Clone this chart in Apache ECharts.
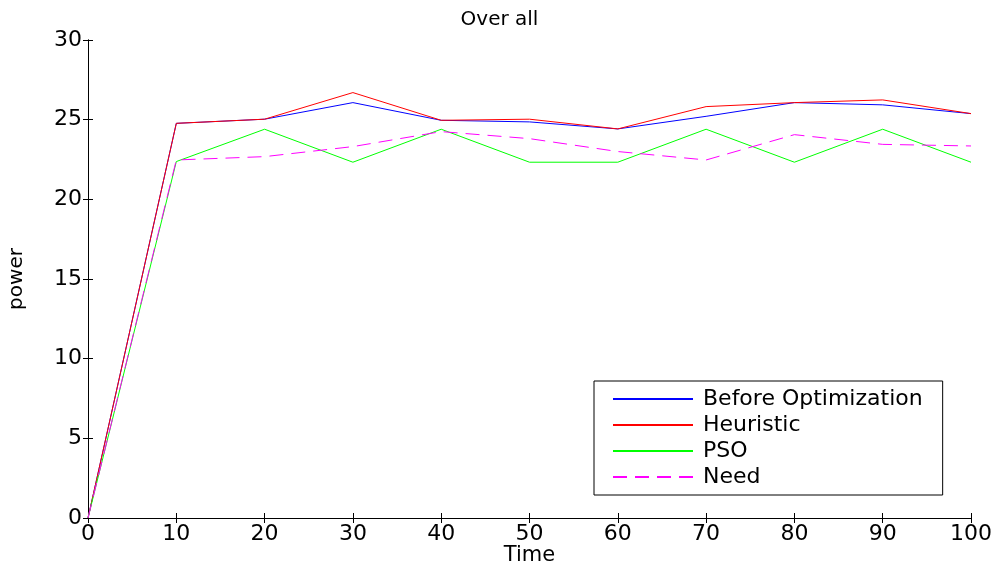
<!DOCTYPE html>
<html>
<head>
<meta charset="utf-8">
<script src="https://cdn.jsdelivr.net/npm/echarts@6/dist/echarts.min.js"></script>
<style>
html, body { margin: 0; padding: 0; background: #fff; }
#c1 { width: 999px; height: 566px; }
</style>
</head>
<body>
<div id="c1"></div>
<script>
// data
var time = [0, 10, 20, 30, 40, 50, 60, 70, 80, 90, 100];
var before = [0, 24.77, 25.03, 26.07, 24.96, 24.86, 24.42, 25.21, 26.07, 25.93, 25.38];
var heuristic = [0, 24.77, 25.03, 26.70, 24.96, 25.03, 24.42, 25.82, 26.07, 26.24, 25.38];
var pso = [0, 22.37, 24.40, 22.33, 24.40, 22.33, 22.33, 24.40, 22.33, 24.40, 22.33];
var need = [0, 22.47, 22.68, 23.31, 24.25, 23.81, 23.00, 22.47, 24.06, 23.45, 23.35];
var names = ['Before Optimization', 'Heuristic', 'PSO', 'Need'];

function pairs(v){
    return time.map(function(t, i){ return [t, v[i]]; });
}

var font = 'DejaVu Sans';

var dom = document.getElementById("c1");
var myChart = echarts.init(dom);
var option = null;

option = {
    animation: false,
    backgroundColor: '#fff',
    title: {
        text: 'Over all',
        left: 'center',
        top: 5,
        textStyle: { fontFamily: font, fontSize: 20, fontWeight: 'normal', color: '#000' }
    },
    legend: {
        data: names,
        orient: 'vertical',
        left: 594,
        top: 381,
        padding: [7, 20, 7, 18],
        itemWidth: 80,
        itemHeight: 20,
        itemGap: 4,
        itemStyle: { opacity: 0 },
        backgroundColor: '#fff',
        borderColor: '#000',
        borderWidth: 1,
        textStyle: { fontFamily: font, fontSize: 22, color: '#000', padding: [0, 0, 0, 5] }
    },
    grid: {
        left: 88,
        right: 28,
        top: 40,
        bottom: 48,
        containLabel: false,
        outerBoundsMode: 'none'
    },
    xAxis: [{
        type: 'value',
        min: 0,
        max: 100,
        interval: 10,
        name: 'Time',
        nameLocation: 'middle',
        nameGap: 27,
        nameMoveOverlap: false,
        nameTextStyle: { fontFamily: font, fontSize: 21, color: '#000' },
        axisLine: { lineStyle: { color: '#000', width: 1 } },
        axisTick: { inside: true, length: 5, lineStyle: { color: '#000' } },
        axisLabel: { fontFamily: font, fontSize: 22, color: '#000', margin: 5 },
        splitLine: { show: false }
    }, {
        type: 'value',
        position: 'top',
        min: 0,
        max: 100,
        interval: 10,
        axisLine: { lineStyle: { color: '#000', width: 1 } },
        axisTick: { inside: true, length: 5, lineStyle: { color: '#000' } },
        axisLabel: { show: false },
        splitLine: { show: false }
    }],
    yAxis: [{
        type: 'value',
        min: 0,
        max: 30,
        interval: 5,
        name: 'power',
        nameLocation: 'middle',
        nameGap: 61,
        nameMoveOverlap: false,
        nameTextStyle: { fontFamily: font, fontSize: 20, color: '#000' },
        axisLine: { show: true, lineStyle: { color: '#000', width: 1 } },
        axisTick: { show: true, inside: true, length: 5, lineStyle: { color: '#000' } },
        axisLabel: { fontFamily: font, fontSize: 22, color: '#000', margin: 6 },
        splitLine: { show: false }
    }, {
        type: 'value',
        position: 'right',
        min: 0,
        max: 30,
        interval: 5,
        axisLine: { show: true, lineStyle: { color: '#000', width: 1 } },
        axisTick: { show: true, inside: true, length: 5, lineStyle: { color: '#000' } },
        axisLabel: { show: false },
        splitLine: { show: false }
    }],
    series: [
        {
            name: names[0],
            type: 'line',
            symbol: 'none',
            color: '#0000ff',
            lineStyle: { width: 1, color: '#0000ff' },
            data: pairs(before)
        },
        {
            name: names[1],
            type: 'line',
            symbol: 'none',
            color: '#ff0000',
            lineStyle: { width: 1, color: '#ff0000' },
            data: pairs(heuristic)
        },
        {
            name: names[2],
            type: 'line',
            symbol: 'none',
            color: '#00ff00',
            lineStyle: { width: 1, color: '#00ff00' },
            data: pairs(pso)
        },
        {
            name: names[3],
            type: 'line',
            symbol: 'none',
            color: '#ff00ff',
            lineStyle: { width: 1, color: '#ff00ff', type: [14, 8] },
            data: pairs(need)
        }
    ]
};

if (option && typeof option === "object") {
    myChart.setOption(option, true);
}
</script>
</body>
</html>
